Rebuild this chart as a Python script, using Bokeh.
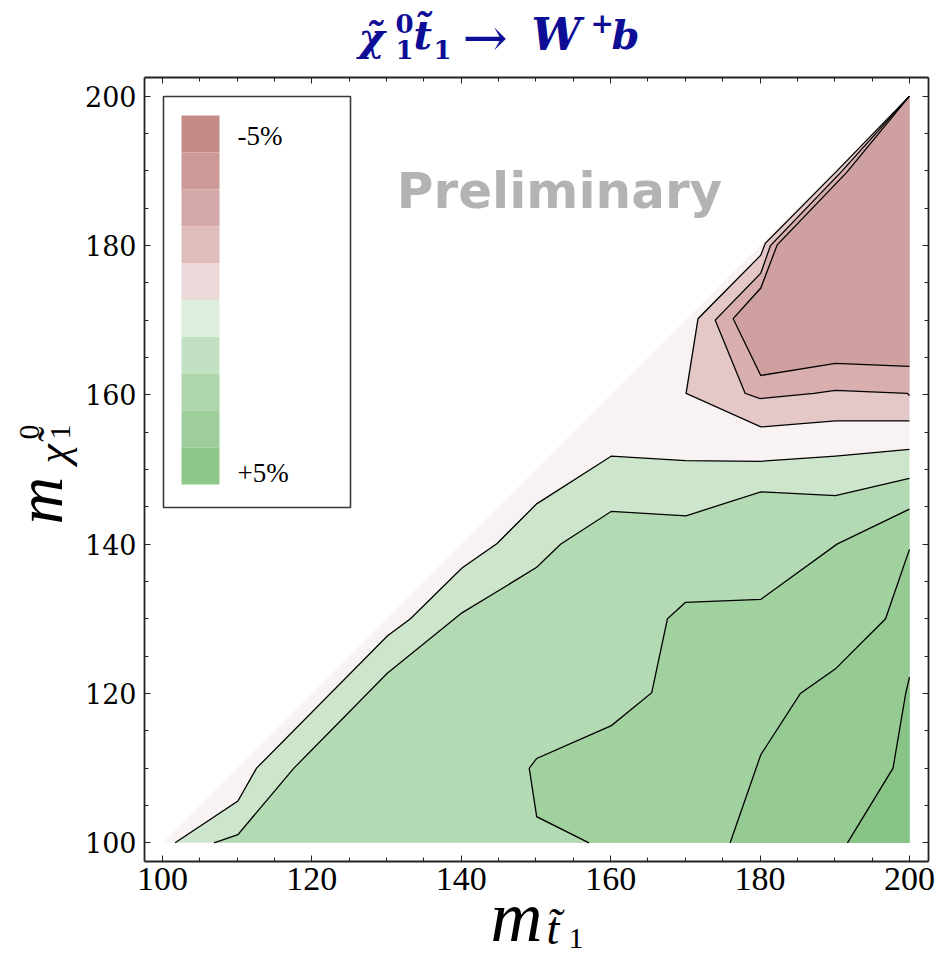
import math

from bokeh.plotting import figure
from bokeh.models import Range1d, LinearAxis, FixedTicker, Label
from bokeh.embed import file_html
from bokeh.resources import INLINE
from bokeh.core.properties import value

# ---------------------------------------------------------------------------
# Contour lines of the relative correction in the (m_stop, m_neutralino) plane
# ---------------------------------------------------------------------------
# kinematic domain m_chi <= m_stop
domain_x = [100.0, 200.0, 200.0]
domain_y = [100.0, 100.0, 200.0]

# positive-correction contours (lower right), weakest first
green_1_x = [101.7, 110.1, 112.6, 130.1, 133.2, 140.1, 144.8, 150.1, 160.1, 170.0, 180.1, 190.1, 200.0]
green_1_y = [100.0, 105.6, 110.0, 127.7, 130.0, 136.8, 140.1, 145.4, 151.8, 151.2, 151.1, 151.8, 152.7]

green_2_x = [106.9, 110.1, 117.6, 130.1, 140.1, 145.2, 150.1, 153.3, 160.1, 170.1, 180.1, 190.1, 200.0]
green_2_y = [100.0, 101.1, 110.0, 122.7, 130.8, 133.9, 136.9, 140.0, 144.4, 143.8, 147.0, 146.5, 148.8]

green_3_x = [157.1, 150.1, 149.1, 150.1, 160.1, 165.5, 167.6, 170.0, 180.1, 190.3, 200.0]
green_3_y = [100.0, 103.5, 110.0, 111.3, 115.7, 120.1, 130.0, 132.2, 132.6, 140.0, 144.7]

green_4_x = [176.0, 180.1, 185.4, 190.1, 196.8, 200.0]
green_4_y = [100.0, 111.8, 120.0, 123.3, 130.0, 139.3]

green_5_x = [191.7, 197.8, 199.5, 200.0]
green_5_y = [100.0, 110.0, 120.0, 122.2]

# negative-correction contours (upper right), weakest first
red_1_x = [200.0, 190.3, 180.7, 180.1, 171.7, 170.1, 180.1, 190.1, 200.0]
red_1_y = [200.0, 190.0, 180.3, 178.7, 170.2, 160.2, 155.7, 156.5, 156.5]

red_2_x = [200.0, 190.9, 181.4, 180.1, 174.0, 178.0, 180.0, 187.2, 190.1, 199.7, 200.0]
red_2_y = [200.0, 189.9, 180.0, 176.3, 170.0, 160.2, 159.5, 160.2, 160.6, 160.2, 159.9]

red_3_x = [200.0, 191.6, 182.3, 180.1, 176.4, 180.1, 190.1, 200.0]
red_3_y = [200.0, 189.8, 180.1, 174.3, 170.2, 162.6, 164.2, 163.8]

# fill colour of each band
domain_color = "#F8F2F2"
green_colors = ["#CDE5CB", "#B4DAB3", "#A2D1A0", "#95CA92", "#88C486"]
red_colors = ["#E4C7C7", "#D8AEAE", "#CFA0A0"]

# colour key, from -5% (top) to +5% (bottom)
key_colors = ["#C48A88", "#CC9898", "#D4A8A7", "#DEBDBB", "#EDD9DA",
              "#DCEEDD", "#C2E0C2", "#AED6AD", "#9ECE9B", "#8DC78A"]
key_labels = ["-5%", "+5%"]

major_ticks = [100, 120, 140, 160, 180, 200]
minor_ticks = [100, 105, 110, 115, 120, 125, 130, 135, 140, 145, 150,
               155, 160, 165, 170, 175, 180, 185, 190, 195, 200]

# ---------------------------------------------------------------------------
# Layout
# ---------------------------------------------------------------------------
W, H = 936, 960
FRAME_L, FRAME_T, FRAME_W, FRAME_H = 144, 77, 784, 784
X_LO, X_HI = 97.6, 202.55
Y_LO, Y_HI = 97.5, 202.5


def at(px, py):
    """Canvas pixel position -> data coordinates."""
    return (X_LO + (px - FRAME_L) / FRAME_W * (X_HI - X_LO),
            Y_HI - (py - FRAME_T) / FRAME_H * (Y_HI - Y_LO))


p = figure(width=W, height=H,
           x_range=Range1d(X_LO, X_HI), y_range=Range1d(Y_LO, Y_HI),
           output_backend="svg", toolbar_location=None,
           min_border_left=FRAME_L, min_border_right=W - FRAME_L - FRAME_W,
           min_border_top=FRAME_T, min_border_bottom=H - FRAME_T - FRAME_H)
p.grid.visible = False
p.outline_line_color = None
p.background_fill_color = "white"
p.border_fill_color = "white"

FRAME_COLOR = "#222222"


def style_axis(ax, show_labels):
    ax.ticker = FixedTicker(ticks=major_ticks, minor_ticks=minor_ticks)
    ax.axis_line_color = FRAME_COLOR
    ax.axis_line_width = 1.8
    ax.major_tick_in = 6
    ax.major_tick_out = 0
    ax.minor_tick_in = 4
    ax.minor_tick_out = 0
    ax.major_tick_line_color = FRAME_COLOR
    ax.minor_tick_line_color = FRAME_COLOR
    ax.major_tick_line_width = 1
    ax.minor_tick_line_width = 1
    if not show_labels:
        ax.major_label_overrides = {t: "" for t in major_ticks}
        ax.major_label_standoff = 0


xaxis = p.xaxis[0]
yaxis = p.yaxis[0]
style_axis(xaxis, True)
style_axis(yaxis, True)
xaxis.major_label_text_font = "Liberation Serif"
xaxis.major_label_text_font_size = "34px"
xaxis.major_label_text_color = "black"
xaxis.major_label_standoff = 6
yaxis.major_label_text_font = "DejaVu Serif"
yaxis.major_label_text_font_size = "27px"
yaxis.major_label_text_color = "black"
yaxis.major_label_standoff = 8

top_axis = LinearAxis()
right_axis = LinearAxis()
style_axis(top_axis, False)
style_axis(right_axis, False)
p.add_layout(top_axis, "above")
p.add_layout(right_axis, "right")

# ---------------------------------------------------------------------------
# Filled bands and contour lines
# ---------------------------------------------------------------------------
green_lines = [(green_1_x, green_1_y), (green_2_x, green_2_y), (green_3_x, green_3_y),
               (green_4_x, green_4_y), (green_5_x, green_5_y)]
red_lines = [(red_1_x, red_1_y), (red_2_x, red_2_y), (red_3_x, red_3_y)]

# each green band is closed through the lower-right corner of the domain,
# each red band along the right edge back to the top corner
patch_xs = [domain_x] + [gx + [200.0] for gx, gy in green_lines] + [rx for rx, ry in red_lines]
patch_ys = [domain_y] + [gy + [100.0] for gx, gy in green_lines] + [ry for rx, ry in red_lines]
patch_colors = [domain_color] + green_colors + red_colors

p.patches(patch_xs, patch_ys, fill_color=patch_colors, line_color=None)

p.multi_line([l[0] for l in green_lines + red_lines],
             [l[1] for l in green_lines + red_lines],
             line_color="black", line_width=1.3, line_join="miter")

# ---------------------------------------------------------------------------
# Colour key
# ---------------------------------------------------------------------------
kx0, ky0 = at(163, 96)
kx1, ky1 = at(350, 507)
p.quad(left=[kx0], right=[kx1], top=[ky0], bottom=[ky1],
       fill_color="white", line_color="#3a3a3a", line_width=1.6)

sx0, sy_top = at(181, 115)
sx1, sy_bot = at(219, 484)
step = (sy_top - sy_bot) / len(key_colors)
p.quad(left=[sx0] * len(key_colors), right=[sx1] * len(key_colors),
       top=[sy_top - i * step for i in range(len(key_colors))],
       bottom=[sy_top - (i + 1) * step for i in range(len(key_colors))],
       fill_color=key_colors, line_color=None)

for lbl, (px, py) in zip(key_labels, [(237, 135), (237, 472)]):
    lx, ly = at(px, py)
    p.add_layout(Label(x=lx, y=ly, text=lbl, text_font="Liberation Serif",
                       text_font_size="27px", text_color="black",
                       text_align="left", text_baseline="middle"))

# watermark
wx, wy = at(559, 190)
p.add_layout(Label(x=wx, y=wy, text="Preliminary", text_font="DejaVu Sans",
                   text_font_style="bold", text_font_size="50px",
                   text_color="#B3B3B3", text_align="center",
                   text_baseline="middle"))


# ---------------------------------------------------------------------------
# Title and axis titles, composed from pieces (drawn above the frame clip)
# ---------------------------------------------------------------------------
def piece(text, px, py, size, font="DejaVu Serif", style="normal",
          color="black", angle=0.0):
    """Place a text piece whose vertical centre sits at canvas pixel (px, py)."""
    x, y = at(px, py)
    p.text(x=[x], y=[y], text=[text], text_font=value(font),
           text_font_style=style, text_font_size=f"{size}px",
           text_color=color, text_align="left", text_line_height=1.0,
           text_baseline="middle", angle=angle, level="overlay")


TITLE_COLOR = "#0D0D96"
piece("\u03c7\u0303", 358, 36, 40, style="bold italic", color=TITLE_COLOR)
piece("0", 395, 23, 26, style="bold", color=TITLE_COLOR)
piece("1", 395, 49, 26, style="bold", color=TITLE_COLOR)
piece("t\u0303", 413, 34, 40, style="bold italic", color=TITLE_COLOR)
piece("1", 433, 49, 26, style="bold", color=TITLE_COLOR)
piece("\u2192", 462, 37, 54, color=TITLE_COLOR)
piece("W", 531, 34, 44, style="bold italic", color=TITLE_COLOR)
piece("+", 590, 22, 28, style="bold", color=TITLE_COLOR)
piece("b", 611, 34, 40, style="bold italic", color=TITLE_COLOR)

# x-axis title: m_{t~1}
piece("m", 490, 916, 72, font="Liberation Serif", style="italic")
piece("t\u0303", 546, 928, 46, font="Liberation Serif", style="italic")
piece("1", 568, 938, 30, font="Liberation Serif")

# y-axis title: m_{chi~0_1}, reading upwards
up = math.pi / 2
piece("m", 39, 524, 66, font="Liberation Serif", style="italic", angle=up)
piece("\u03c7\u0303", 53, 463, 44, font="Liberation Serif", style="italic", angle=up)
piece("0", 29, 439, 30, font="Liberation Serif", angle=up)
piece("1", 60, 439, 30, font="Liberation Serif", angle=up)

open("out.html", "w").write(file_html(p, INLINE))
